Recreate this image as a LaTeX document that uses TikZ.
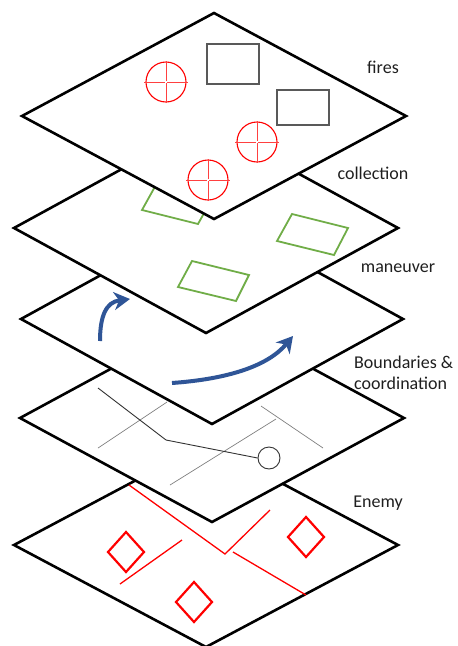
\documentclass[tikz,border=0pt]{standalone}
\usepackage{fontspec}
\setmainfont{Carlito}
\usetikzlibrary{arrows.meta}
\definecolor{txtgray}{HTML}{1F1F1F}
\definecolor{movblue}{HTML}{2F5597}
\definecolor{collgreen}{HTML}{70AD47}
\definecolor{boxgray}{HTML}{595959}
\tikzset{
  layer/.style={draw=black, fill=white, line width=2.6pt, line join=miter},
  label/.style={text=txtgray, font=\fontsize{18}{21}\selectfont, inner sep=0pt},
  firering/.style={draw=red, line width=1.1pt},
  firecross/.style={draw=red!75, line width=0.8pt},
  tgtbox/.style={draw=boxgray, line width=1.4pt},
  collbox/.style={draw=collgreen, line width=1.8pt, line join=miter},
  move/.style={draw=movblue, line width=4pt, -{Stealth[length=16pt,width=18pt,inset=5pt]}},
  bound/.style={draw=gray, line width=0.7pt},
  route/.style={draw=black!80, line width=0.9pt},
  enemyline/.style={draw=red, line width=1.3pt},
  enemypos/.style={draw=red, line width=2.2pt, line join=miter},
}
% a layer drawn as a flat rhombus: centre, half width, half height
\newcommand{\plane}[4]{\draw[layer] (#1+#3,#2) -- (#1,#2+#4) -- (#1-#3,#2) -- (#1,#2-#4) -- cycle;}
% a fire symbol: ring with a cross
\newcommand{\fireat}[3]{%
  \draw[firering] (#1,#2) circle[radius=20];
  \draw[firecross] (#1-22,#2) -- (#1-1,#2) (#1+1,#2) -- (#1+22,#2)
                   (#1,#2-21) -- (#1,#2-1) (#1,#2+1) -- (#1,#2+21);
  \coordinate (#3) at (#1,#2);}
% an enemy position: small rhombus
\newcommand{\enemyat}[3]{%
  \draw[enemypos] (#1,#2-20) -- (#1+18,#2) -- (#1,#2+20) -- (#1-18,#2) -- cycle;
  \coordinate (#3) at (#1,#2);}
\begin{document}
\begin{tikzpicture}[x=1pt,y=-1pt]
\useasboundingbox (0,0) rectangle (458,646);

% ---- Enemy layer (bottom) ----
\plane{206}{545}{192}{102}
\coordinate (e1) at (129,485);
\coordinate (e2) at (225,554);
\coordinate (e3) at (270,510);
\coordinate (e4) at (233,552);
\coordinate (e5) at (306,595);
\coordinate (e6) at (120,584);
\coordinate (e7) at (182,540);
\draw[enemyline] (e1) -- (e2) -- (e3);
\draw[enemyline] (e4) -- (e5);
\draw[enemyline] (e6) -- (e7);
\enemyat{126}{552}{d1}
\enemyat{306}{537}{d2}
\enemyat{194}{602}{d3}

% ---- Boundaries & coordination layer ----
\plane{212}{418}{192}{104}
\coordinate (b1) at (98,448);
\coordinate (b2) at (167,402);
\coordinate (b3) at (170,485);
\coordinate (b4) at (276,419);
\coordinate (b5) at (261,406);
\coordinate (b6) at (323,448);
\draw[bound] (b1) -- (b2);
\draw[bound] (b3) -- (b4);
\draw[bound] (b5) -- (b6);
\node[draw=black!80, line width=0.9pt, circle, minimum size=22pt, inner sep=0pt] (cp) at (269,458) {};
\coordinate (r1) at (98,388);
\coordinate (r2) at (166,440);
\draw[route] (r1) -- (r2) -- (cp.west);

% ---- Maneuver layer ----
\plane{212}{319}{191}{105}
\coordinate (m1) at (100,341);
\coordinate (m2) at (130,299);
\coordinate (m3) at (172,383);
\coordinate (m4) at (293,336);
\draw[move] (m1) .. controls (100,316) and (106,302) .. (m2);
\draw[move] (m3) .. controls (228,379) and (268,366) .. (m4);

% ---- Collection layer ----
\plane{206}{228}{192}{105}
\draw[collbox] (142,210) -- (198,224) -- (213,197) -- (157,183) -- cycle;
\draw[collbox] (277,241) -- (334,255) -- (348,228) -- (292,214) -- cycle;
\draw[collbox] (178,287) -- (236,301) -- (249,275) -- (192,261) -- cycle;

% ---- Fires layer (top) ----
\plane{214}{116}{192}{103}
\node[tgtbox, minimum width=52pt, minimum height=40pt, inner sep=0pt] (t1) at (233,64) {};
\node[tgtbox, minimum width=52pt, minimum height=35pt, inner sep=0pt] (t2) at (303,107.5) {};
\fireat{166}{82}{f1}
\fireat{257}{142}{f2}
\fireat{208}{180}{f3}

% ---- layer names ----
\node[label] (lfires) at (383,67) {fires};
\node[label] (lcoll) at (373,173) {collection};
\node[label] (lman) at (398,268) {maneuver};
\node[label, align=left, anchor=west] (lbound) at (354,373) {Boundaries \&\\coordination};
\node[label] (lenemy) at (378,503) {Enemy};
\end{tikzpicture}
\end{document}
